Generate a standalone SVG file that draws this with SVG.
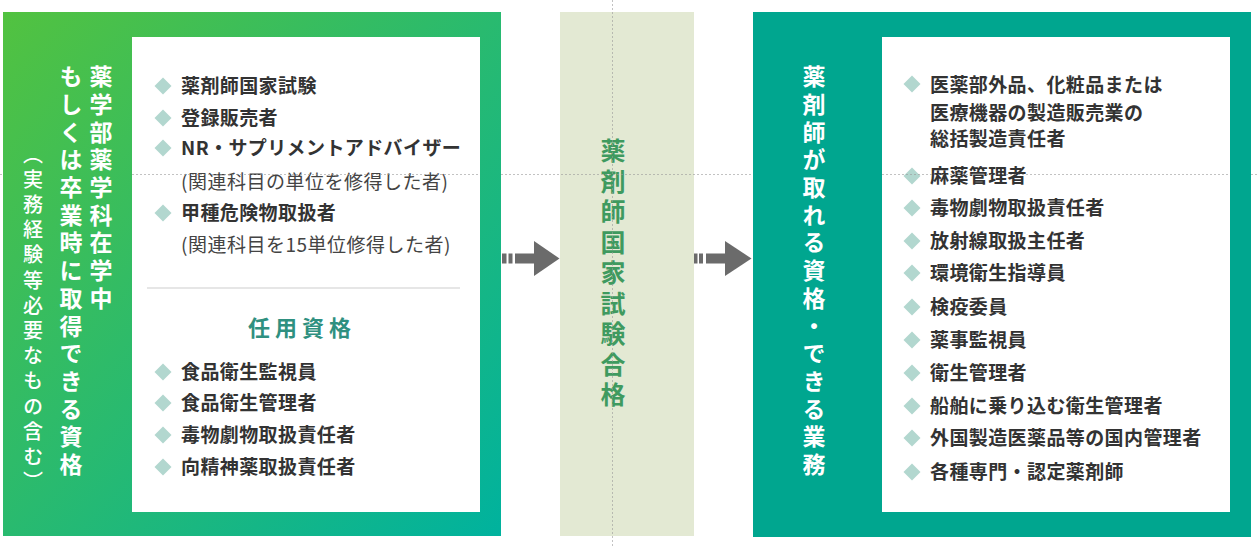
<svg xmlns="http://www.w3.org/2000/svg" width="1258" height="547" viewBox="0 0 1258 547">
<defs>
<linearGradient id="gl" x1="0" y1="0" x2="1" y2="1">
<stop offset="0" stop-color="#52c240"/>
<stop offset="1" stop-color="#00b29e"/>
</linearGradient>
<path id="dia" d="M0,-8.5 L8.5,0 L0,8.5 L-8.5,0Z" fill="#b2d7cf"/>
<style>
text{font-family:"Noto Sans CJK JP","Noto Sans",sans-serif;}
.it{font-size:19px;font-weight:700;fill:#333;letter-spacing:0.4px;}
.sub{font-size:19px;font-weight:400;fill:#444;letter-spacing:0.5px;}
.vt{writing-mode:vertical-rl;font-weight:700;fill:#fff;}
.guide{stroke:#9a9a9a;stroke-width:1;stroke-dasharray:2 2;opacity:0.6;fill:none;}
</style>
</defs>
<rect width="1258" height="547" fill="#fff"/>

<g id="left-panel">
<rect x="3" y="12" width="498" height="524" fill="url(#gl)"/>
<rect x="132" y="37" width="348" height="475" fill="#fff"/>
<text class="vt" x="101" y="65" style="font-size:23px;letter-spacing:4.7px">薬学部薬学科在学中</text>
<text class="vt" x="71" y="65" style="font-size:23px;letter-spacing:4.7px">もしくは卒業時に取得できる資格</text>
<text class="vt" x="33" y="144" style="font-size:20px;font-weight:500;letter-spacing:5.2px">（実務経験等必要なもの含む）</text>
<use href="#dia" x="163" y="86"/>
<text class="it" x="181" y="93">薬剤師国家試験</text>
<use href="#dia" x="163" y="118"/>
<text class="it" x="181" y="125">登録販売者</text>
<use href="#dia" x="163" y="148"/>
<text class="it" x="181" y="155">NR・サプリメントアドバイザー</text>
<text class="sub" x="181" y="189">(関連科目の単位を修得した者)</text>
<use href="#dia" x="163" y="213"/>
<text class="it" x="181" y="220">甲種危険物取扱者</text>
<text class="sub" x="181" y="252">(関連科目を15単位修得した者)</text>
<line x1="147" y1="288" x2="460" y2="288" stroke="#dedede" stroke-width="1.5"/>
<text x="302" y="336" text-anchor="middle" style="font-size:22px;font-weight:700;fill:#2f9080;letter-spacing:5px">任用資格</text>
<use href="#dia" x="163" y="372"/>
<text class="it" x="181" y="379">食品衛生監視員</text>
<use href="#dia" x="163" y="403"/>
<text class="it" x="181" y="410">食品衛生管理者</text>
<use href="#dia" x="163" y="435"/>
<text class="it" x="181" y="442">毒物劇物取扱責任者</text>
<use href="#dia" x="163" y="467"/>
<text class="it" x="181" y="474">向精神薬取扱責任者</text>
</g>

<g id="exam-pass">
<rect x="560" y="12" width="134" height="524" fill="#e3e9d3"/>
<text class="vt" x="613" y="138" style="font-size:25px;letter-spacing:5.5px;fill:#3f9a5f">薬剤師国家試験合格</text>
</g>

<g id="right-panel">
<rect x="753" y="12" width="498" height="525" fill="#00a68f"/>
<rect x="882" y="37" width="348" height="475" fill="#fff"/>
<text class="vt" x="814" y="65" style="font-size:23px;letter-spacing:4.7px">薬剤師が取れる資格・できる業務</text>
<use href="#dia" x="912" y="84"/>
<text class="it" x="930" y="92">医薬部外品、化粧品または</text>
<text class="it" x="930" y="120">医療機器の製造販売業の</text>
<text class="it" x="930" y="146">総括製造責任者</text>
<use href="#dia" x="912" y="176"/>
<text class="it" x="930" y="183">麻薬管理者</text>
<use href="#dia" x="912" y="208"/>
<text class="it" x="930" y="215">毒物劇物取扱責任者</text>
<use href="#dia" x="912" y="241"/>
<text class="it" x="930" y="248">放射線取扱主任者</text>
<use href="#dia" x="912" y="273"/>
<text class="it" x="930" y="280">環境衛生指導員</text>
<use href="#dia" x="912" y="307"/>
<text class="it" x="930" y="314">検疫委員</text>
<use href="#dia" x="912" y="340"/>
<text class="it" x="930" y="347">薬事監視員</text>
<use href="#dia" x="912" y="373"/>
<text class="it" x="930" y="380">衛生管理者</text>
<use href="#dia" x="912" y="406"/>
<text class="it" x="930" y="413">船舶に乗り込む衛生管理者</text>
<use href="#dia" x="912" y="438"/>
<text class="it" x="930" y="445">外国製造医薬品等の国内管理者</text>
<use href="#dia" x="912" y="472"/>
<text class="it" x="930" y="479">各種専門・認定薬剤師</text>
</g>

<g id="connectors" fill="#6b6b6b">
<rect x="502" y="253.5" width="4.5" height="10"/>
<rect x="508.5" y="253.5" width="4" height="10"/>
<rect x="515" y="253.5" width="20" height="10"/>
<polygon points="534,241 559.5,258.5 534,276"/>
<rect x="694" y="253.5" width="3.5" height="10"/>
<rect x="699" y="253.5" width="4" height="10"/>
<rect x="706" y="253.5" width="20" height="10"/>
<polygon points="725,241 751.5,258.5 725,276"/>
</g>

<g id="guides">
<line class="guide" x1="612.5" y1="0" x2="612.5" y2="547"/>
<line class="guide" x1="0" y1="174.5" x2="3" y2="174.5"/>
<line class="guide" x1="132" y1="174.5" x2="480" y2="174.5"/>
<line class="guide" x1="501" y1="174.5" x2="753" y2="174.5"/>
<line class="guide" x1="882" y1="174.5" x2="1230" y2="174.5"/>
<line class="guide" x1="1251" y1="174.5" x2="1258" y2="174.5"/>
</g>
</svg>
